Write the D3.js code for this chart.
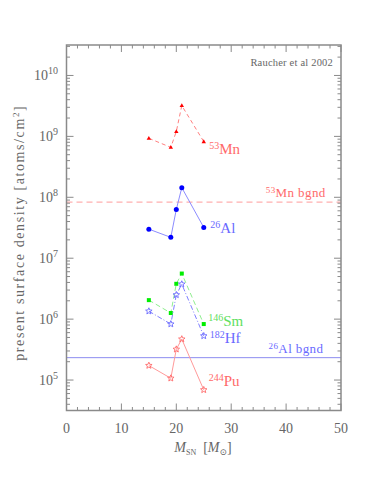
<!DOCTYPE html>
<html>
<head>
<meta charset="utf-8">
<script src="https://cdn.jsdelivr.net/npm/d3@7"></script>
<style>
  body { margin: 0; background: #fff; }
  text { font-family: "Liberation Serif", "DejaVu Serif", serif; fill: #666; }
</style>
</head>
<body>
<svg width="374" height="500"></svg>
<script>
// Data
const masses = [15, 19, 20, 21, 25];
const mn53 = [9.3e8, 6.6e8, 1.2e9, 3.2e9, 8.2e8];
const al26 = [3.0e7, 2.2e7, 6.3e7, 1.44e8, 3.2e7];
const sm146 = [2.05e6, 1.26e6, 3.8e6, 5.6e6, 8.3e5];
const hf182 = [1.35e6, 8.3e5, 2.5e6, 3.75e6, 5.3e5];
const pu244 = [1.73e5, 1.07e5, 3.2e5, 4.7e5, 6.9e4];
const mnBgnd = 8.3e7;
const alBgnd = 2.33e5;
const xTicks = [0, 10, 20, 30, 40, 50];
const yDecades = [5, 6, 7, 8, 9, 10];

const svg = d3.select("svg");
const margin = {left: 66.5, right: 341, top: 45, bottom: 410.5};

const x = d3.scaleLinear().domain([0, 50]).range([margin.left, margin.right]);
const y = d3.scaleLog().domain([Math.pow(10, 4.5), Math.pow(10, 10.5)]).range([margin.bottom, margin.top]);

const axisColor = "#8a8a8a";

// Clip for data
svg.append("clipPath").attr("id", "clip")
  .append("rect")
  .attr("x", margin.left).attr("y", margin.top)
  .attr("width", margin.right - margin.left).attr("height", margin.bottom - margin.top);

// Background lines
svg.append("line")
  .attr("x1", margin.left).attr("x2", margin.right)
  .attr("y1", y(mnBgnd)).attr("y2", y(mnBgnd))
  .attr("stroke", "#ffb0b0").attr("stroke-width", 1.3).attr("stroke-dasharray", "6,4");
svg.append("line")
  .attr("x1", margin.left).attr("x2", margin.right)
  .attr("y1", y(alBgnd)).attr("y2", y(alBgnd))
  .attr("stroke", "#8c8cf0").attr("stroke-width", 1);

// Series
const series = [
  {values: mn53, line: "#ff8080", dash: "4,3", marker: "#ff0000", shape: "tri"},
  {values: al26, line: "#8c8cff", dash: null, marker: "#0000ff", shape: "circle"},
  {values: sm146, line: "#90ee90", dash: "5,3", marker: "#00ee00", shape: "square"},
  {values: hf182, line: "#8080ff", dash: "5,2,1,2", marker: "#6a6aff", shape: "star"},
  {values: pu244, line: "#ff9a9a", dash: null, marker: "#ff6a6a", shape: "star"}
];

const line = d3.line().x(d => x(d[0])).y(d => y(d[1]));

function starPath(cx, cy, r) {
  const pts = [];
  for (let i = 0; i < 10; i++) {
    const a = -Math.PI / 2 + i * Math.PI / 5;
    const rr = i % 2 === 0 ? r : r * 0.45;
    pts.push([cx + rr * Math.cos(a), cy + rr * Math.sin(a)]);
  }
  return "M" + pts.map(p => p.join(",")).join("L") + "Z";
}

const gData = svg.append("g").attr("clip-path", "url(#clip)");
series.forEach(s => {
  const pts = masses.map((m, i) => [m, s.values[i]]);
  gData.append("path")
    .attr("d", line(pts))
    .attr("fill", "none")
    .attr("stroke", s.line)
    .attr("stroke-width", 1)
    .attr("stroke-dasharray", s.dash);
  pts.forEach(p => {
    const cx = x(p[0]), cy = y(p[1]);
    if (s.shape === "circle") {
      gData.append("circle").attr("cx", cx).attr("cy", cy).attr("r", 2.5).attr("fill", s.marker);
    } else if (s.shape === "square") {
      gData.append("rect").attr("x", cx - 2).attr("y", cy - 2).attr("width", 4).attr("height", 4).attr("fill", s.marker);
    } else if (s.shape === "tri") {
      gData.append("path")
        .attr("d", `M${cx},${cy - 2.4}L${cx + 2.2},${cy + 1.5}L${cx - 2.2},${cy + 1.5}Z`)
        .attr("fill", s.marker);
    } else {
      gData.append("path").attr("d", starPath(cx, cy, 3.4))
        .attr("fill", "none").attr("stroke", s.marker).attr("stroke-width", 0.9);
    }
  });
});

// Frame
svg.append("rect")
  .attr("x", margin.left).attr("y", margin.top)
  .attr("width", margin.right - margin.left).attr("height", margin.bottom - margin.top)
  .attr("fill", "none").attr("stroke", axisColor).attr("stroke-width", 1.5);

// X ticks (inward, bottom and top)
const xMinor = d3.range(0, 51, 2);
const gTicks = svg.append("g").attr("stroke", axisColor).attr("stroke-width", 1);
xMinor.forEach(v => {
  const len = v % 10 === 0 ? 7 : 3.5;
  gTicks.append("line").attr("x1", x(v)).attr("x2", x(v)).attr("y1", margin.bottom).attr("y2", margin.bottom - len);
  gTicks.append("line").attr("x1", x(v)).attr("x2", x(v)).attr("y1", margin.top).attr("y2", margin.top + len);
});

// Y ticks (log, inward, left and right)
const yMinor = [];
for (let e = 4; e <= 10; e++) {
  for (let k = 1; k <= 9; k++) {
    const v = k * Math.pow(10, e);
    if (v >= y.domain()[0] && v <= y.domain()[1]) yMinor.push({v: v, major: k === 1});
  }
}
yMinor.forEach(t => {
  const len = t.major ? 7 : 3.5;
  gTicks.append("line").attr("x1", margin.left).attr("x2", margin.left + len).attr("y1", y(t.v)).attr("y2", y(t.v));
  gTicks.append("line").attr("x1", margin.right).attr("x2", margin.right - len).attr("y1", y(t.v)).attr("y2", y(t.v));
});

// X tick labels
svg.append("g").selectAll("text").data(xTicks).join("text")
  .attr("x", d => x(d)).attr("y", margin.bottom + 22)
  .attr("text-anchor", "middle").attr("font-size", 14)
  .text(d => d);

// Y tick labels
yDecades.forEach(e => {
  const t = svg.append("text")
    .attr("x", 58).attr("y", y(Math.pow(10, e)) + 5)
    .attr("text-anchor", "end").attr("font-size", 14);
  t.append("tspan").text("10");
  t.append("tspan").attr("dy", -6).attr("font-size", 10).text(e);
});

// Axis titles
const yLab = svg.append("text")
  .attr("transform", `translate(24,${(margin.top + margin.bottom) / 2 + 5}) rotate(-90)`)
  .attr("text-anchor", "middle").attr("font-size", 14).attr("letter-spacing", 1.6);
yLab.append("tspan").text("present surface density [atoms/cm");
yLab.append("tspan").attr("dy", -5).attr("font-size", 9).text("2");
yLab.append("tspan").attr("dy", 5).text("]");

const xLab = svg.append("text")
  .attr("x", 203).attr("y", 452).attr("text-anchor", "middle").attr("font-size", 14);
xLab.append("tspan").attr("font-style", "italic").text("M");
xLab.append("tspan").attr("dy", 3).attr("font-size", 8).text("SN");
xLab.append("tspan").attr("dy", -3).text("\u2002[");
xLab.append("tspan").attr("font-style", "italic").text("M");
xLab.append("tspan").attr("dy", 3).attr("font-size", 9).text("\u2299");
xLab.append("tspan").attr("dy", -3).text("]");

// Reference note
svg.append("text").attr("x", 333).attr("y", 66).attr("text-anchor", "end")
  .attr("font-size", 10.5).attr("letter-spacing", 0.2).text("Raucher et al 2002");

// Series labels
function isoLabel(px, py, mass, name, color) {
  const t = svg.append("text").attr("x", px).attr("y", py).attr("font-size", 15);
  t.append("tspan").attr("dy", -5).attr("font-size", 10).style("fill", color).text(mass);
  t.append("tspan").attr("dy", 5).style("fill", color).text(name);
  return t;
}
isoLabel(x(26), y(mn53[4]) + 12, "53", "Mn", "#ff6a6a");
isoLabel(x(26.2), y(al26[4]) + 6, "26", "Al", "#6a6aff");
isoLabel(x(25.8), y(sm146[4]) + 2, "146", "Sm", "#60e060");
isoLabel(x(26.1), y(hf182[4]) + 7, "182", "Hf", "#6a6aff");
isoLabel(x(25.9), y(pu244[4]) - 4, "244", "Pu", "#ff6a6a");

function bgLabel(px, py, mass, name, color) {
  const t = svg.append("text").attr("x", px).attr("y", py).attr("font-size", 13).attr("letter-spacing", 0.4);
  t.append("tspan").attr("dy", -4).attr("font-size", 9).style("fill", color).text(mass);
  t.append("tspan").attr("dy", 4).style("fill", color).text(name);
}
bgLabel(x(36.3), y(mnBgnd) - 5, "53", "Mn bgnd", "#ff6a6a");
bgLabel(x(36.8), y(alBgnd) - 5, "26", "Al bgnd", "#6a6aff");
</script>
</body>
</html>
